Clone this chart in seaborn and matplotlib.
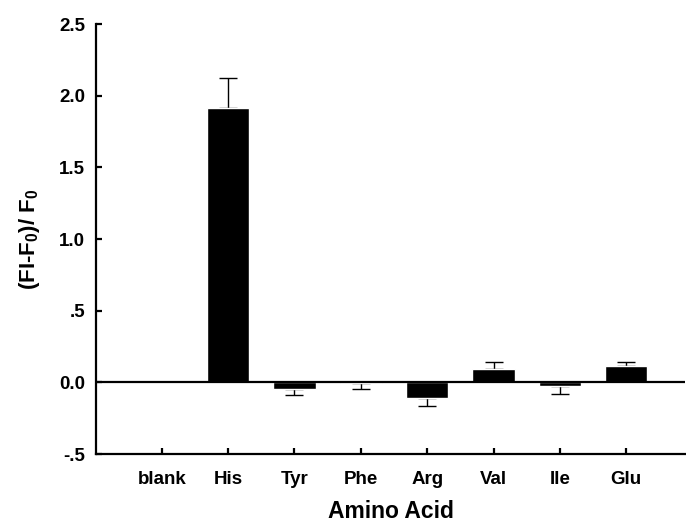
import numpy as np
import pandas as pd
import seaborn as sns
from matplotlib import pyplot as plt

# values
amino = ['blank', 'His', 'Tyr', 'Phe', 'Arg', 'Val', 'Ile', 'Glu']
ratio = [0.0, 1.916, -0.049, -0.004, -0.110, 0.091, -0.026, 0.112]
err = [0.0, 0.207, 0.035, 0.045, 0.055, 0.049, 0.056, 0.030]

ytick_vals = [-0.5, 0.0, 0.5, 1.0, 1.5, 2.0, 2.5]
ytick_labels = ['-.5', '0.0', '.5', '1.0', '1.5', '2.0', '2.5']

df = pd.DataFrame({'amino': amino, 'ratio': ratio, 'err': err})

sns.set_style('ticks')
plt.rcParams['font.family'] = ['Liberation Sans', 'DejaVu Sans']
plt.rcParams['font.weight'] = 'bold'
plt.rcParams['mathtext.fontset'] = 'custom'
plt.rcParams['mathtext.rm'] = 'Liberation Sans:bold'
plt.rcParams['mathtext.bf'] = 'Liberation Sans:bold'
plt.rcParams['mathtext.default'] = 'bf'

fig = plt.figure(figsize=(6.86, 5.25), dpi=100)
ax = fig.add_axes([0.140, 0.135, 0.859, 0.819])

sns.barplot(data=df, x='amino', y='ratio', color='black', width=0.64,
            saturation=1, errorbar=None, ax=ax, zorder=3)

# one-sided error bars (away from zero)
xpos = np.arange(len(amino))
vals = df['ratio'].to_numpy()
e = df['err'].to_numpy()
lower = np.where(vals < 0, e, 0)
upper = np.where(vals >= 0, e, 0)
mask = e > 0
ax.errorbar(xpos[mask], vals[mask], yerr=[lower[mask], upper[mask]],
            fmt='none', ecolor='black', elinewidth=1, capsize=6.5,
            capthick=1, zorder=2)

ax.axhline(0, color='black', lw=1.6, zorder=4)

ax.set_xlim(-0.99, 7.89)
ax.set_ylim(-0.5, 2.5)
ax.set_yticks(ytick_vals)
ax.set_yticklabels(ytick_labels)

sns.despine(ax=ax)
for side in ['left', 'bottom']:
    ax.spines[side].set_linewidth(1.6)
    ax.spines[side].set_color('black')

ax.tick_params(axis='both', direction='in', length=4.5, width=1.6,
               labelsize=13.5, colors='black', pad=8)
ax.tick_params(axis='x', pad=12)
for lab in ax.get_xticklabels() + ax.get_yticklabels():
    lab.set_fontweight('bold')

ax.set_xlabel('Amino Acid', fontsize=16.5, fontweight='bold', color='black',
              labelpad=9)
ax.set_ylabel(r'(FI-F$_0$)/ F$_0$', fontsize=16, fontweight='bold',
              color='black', labelpad=12)

plt.savefig('out.png', dpi=100)
